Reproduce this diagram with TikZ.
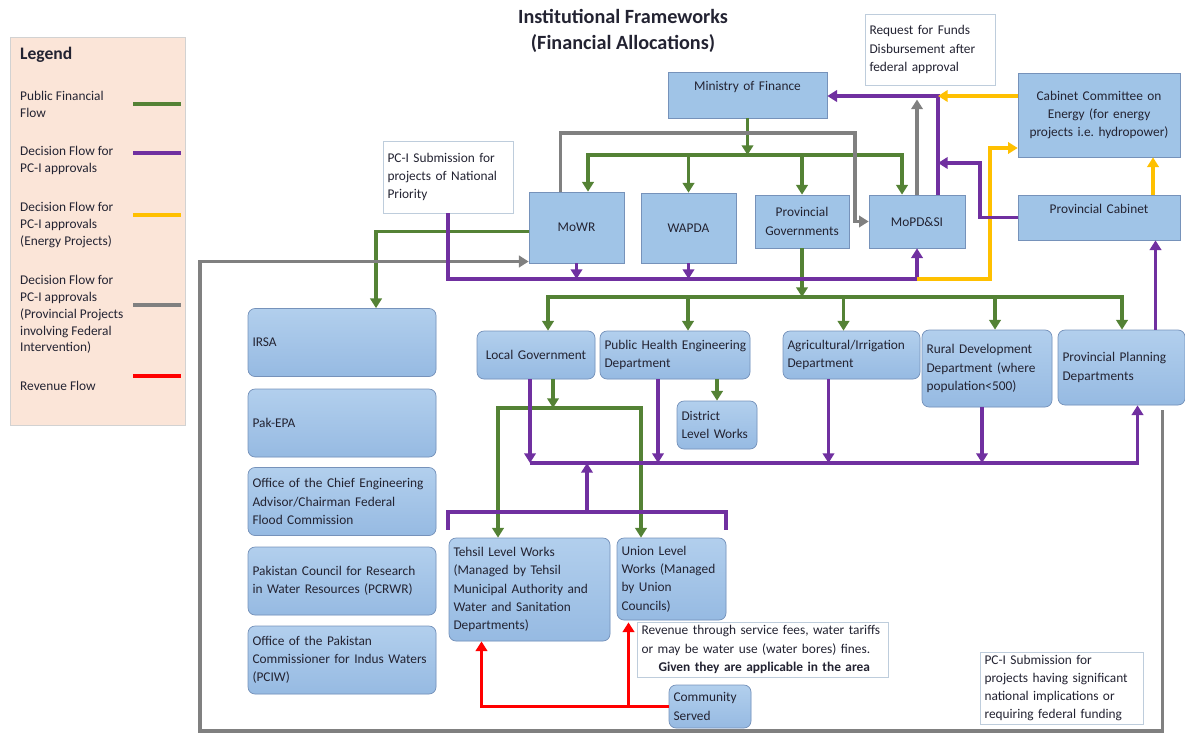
\documentclass[tikz,border=0pt]{standalone}
\usepackage{fontspec}
\setmainfont{Carlito}
\usetikzlibrary{arrows.meta,calc}
\definecolor{boxfill}{RGB}{160,196,231}
\definecolor{boxtop}{RGB}{178,207,237}
\definecolor{boxbot}{RGB}{150,186,226}
\definecolor{boxline}{RGB}{118,146,186}
\definecolor{notefill}{RGB}{255,255,255}
\definecolor{noteline}{RGB}{190,205,220}
\definecolor{legendfill}{RGB}{251,229,216}
\definecolor{finc}{RGB}{84,130,53}
\definecolor{decc}{RGB}{112,48,160}
\definecolor{enc}{RGB}{255,192,0}
\definecolor{provc}{RGB}{128,128,128}
\definecolor{revc}{RGB}{255,0,0}
\definecolor{txt}{RGB}{35,35,50}
\newcommand{\boxfont}{\fontsize{7.6}{10.4}\selectfont}
\tikzstyle{box}=[draw=boxline,fill=boxfill,text=txt,align=center,inner xsep=0.09cm,inner ysep=0pt,font=\boxfont]
\tikzstyle{rbox}=[box,rounded corners=4pt,top color=boxtop,bottom color=boxbot]
\tikzstyle{note}=[box,draw=noteline,fill=notefill]
\tikzstyle{lft}=[align=left]
\tikzstyle{legtext}=[anchor=west,align=left,text=txt,font=\fontsize{7.6}{9.6}\selectfont]
\tikzstyle{flow}=[line width=2.2pt]
\tikzstyle{fin}=[flow,draw=finc]
\tikzstyle{dec}=[flow,draw=decc]
\tikzstyle{ene}=[flow,draw=enc]
\tikzstyle{prov}=[flow,draw=provc]
\tikzstyle{rev}=[flow,draw=revc]
\tikzstyle{arr}=[-{Triangle[length=5.5pt,width=6.5pt]}]
\tikzstyle{arrs}=[{Triangle[length=5.5pt,width=6.5pt]}-{Triangle[length=5.5pt,width=6.5pt]}]
\tikzset{sz/.style 2 args={/utils/exec={\pgfmathsetlengthmacro\boxtw{(#1-9)*0.02cm}},
    text width/.expanded=\boxtw,minimum height={#2*0.02cm}}}

\begin{document}
\begin{tikzpicture}[x=0.02cm,y=-0.02cm]
    \useasboundingbox (0,0) rectangle (1185,733);
    % Legend
    \draw[fill=legendfill,draw=gray!35] (10,37) rectangle (185,425);
    \node[anchor=west,text=txt,font=\bfseries\fontsize{10}{12}\selectfont] (legend) at (14,55) {Legend};
    \foreach \name/\y/\ly/\sty/\txt in {lfin/104.5/104/fin/{Public Financial\\Flow},
        ldec/160.5/153/dec/{Decision Flow for\\PC-I approvals},
        lene/225/215/ene/{Decision Flow for\\PC-I approvals\\(Energy Projects)},
        lprov/314.5/305/prov/{Decision Flow for\\PC-I approvals\\(Provincial Projects\\involving Federal\\Intervention)},
        lrev/386/376/rev/{Revenue Flow}}{
        \node[legtext] (\name) at (14,\y) {\txt};
        \draw[\sty] (133,\ly) -- (181,\ly);
    }
    % Title
    \node[align=center,text=txt,font=\bfseries\fontsize{11.5}{14.7}\selectfont] (title) at (623,31)
        {Institutional Frameworks\\(Financial Allocations)};

    % Federal level
    \node[box,sz={159}{46},text depth=10pt] (mof) at (747.5,95) {Ministry of Finance};
    \node[note,lft,sz={130}{71}] (req) at (930,49.5) {Request for Funds\\Disbursement after\\federal approval};
    \node[box,sz={162}{84}] (cce) at (1099,115) {Cabinet Committee on\\Energy (for energy\\projects i.e.\ hydropower)};
    \node[box,sz={162}{45},text depth=10pt] (pcab) at (1099,217.5) {Provincial Cabinet};
    \node[box,sz={96}{53}] (mopd) at (917,221.5) {MoPD\&SI};
    \node[box,sz={94}{53}] (provgov) at (802,221.5) {Provincial\\Governments};
    \node[box,sz={95}{70}] (wapda) at (688.5,228) {WAPDA};
    \node[box,sz={95}{71}] (mowr) at (576.5,227.5) {MoWR};
    \node[note,lft,sz={130}{72}] (pcs) at (448,177) {PC-I Submission for\\projects of National\\Priority};

    % Federal agencies
    \foreach \name/\y/\txt in {irsa/342.5/IRSA, pakepa/423/Pak-EPA,
        cea/501.5/{Office of the Chief Engineering\\Advisor/Chairman Federal\\Flood Commission},
        pcrwr/581/{Pakistan Council for Research\\in Water Resources (PCRWR)},
        pciw/660/{Office of the Pakistan\\Commissioner for Indus Waters\\(PCIW)}}
        \node[rbox,lft,sz={188}{68}] (\name) at (342,\y) {\txt};

    % Provincial departments
    \node[rbox,sz={118}{48}] (lg) at (536,355) {Local Government};
    \node[rbox,lft,sz={150}{48}] (phed) at (675,355) {\mbox{Public Health Engineering}\\Department};
    \node[rbox,lft,sz={137}{48}] (agri) at (851.5,355) {Agricultural/Irrigation\\Department};
    \node[rbox,lft,sz={130}{77}] (rural) at (987,368.5) {Rural Development\\Department (where\\population<500)};
    \node[rbox,lft,sz={127}{75}] (ppd) at (1121.5,367.5) {Provincial Planning\\Departments};
    \node[rbox,lft,sz={80}{48}] (dlw) at (717,425) {District\\Level Works};

    % Local works
    \node[rbox,lft,sz={161}{103}] (tehsil) at (529.5,589.5) {Tehsil Level Works\\(Managed by Tehsil\\Municipal Authority and\\Water and Sanitation\\Departments)};
    \node[rbox,lft,sz={109}{82}] (union) at (671.5,579) {Union Level\\Works (Managed\\by Union\\Councils)};
    \node[note,lft,sz={251}{55}] (rev) at (762.5,649.5) {Revenue through service fees, water tariffs\\or may be water use (water bores) fines.\\\hspace*{0.34cm}\textbf{Given they are applicable in the area}};
    \node[rbox,lft,sz={82}{43}] (comm) at (710,706.5) {Community\\Served};
    \node[note,lft,sz={163}{72}] (pcs2) at (1061.5,688) {PC-I Submission for\\projects having significant\\national implications or\\requiring federal funding};

    % Public financial flow
    \coordinate (gsplit) at (747,155);
    \coordinate (gb1L) at (588,155);
    \coordinate (gb1R) at (902,155);
    \draw[fin,arr] (mof.south) -- (mof.south |- gsplit);
    \draw[fin,arrs] (gb1L |- mowr.north) -- (gb1L) -- (gb1R) -- (gb1R |- mopd.north);
    \foreach \n in {wapda,provgov}
        \draw[fin,arr] (\n.north |- gsplit) -- (\n.north);
    \draw[fin,arr] ($(mowr.west)+(0,4)$) -| ($(irsa.north)+(34,0)$);
    \coordinate (gb2L) at (548,297);
    \coordinate (gb2R) at (1122,297);
    \draw[fin,arr] (provgov.south) -- (provgov.south |- gb2L);
    \draw[fin,arrs] (gb2L |- lg.north) -- (gb2L) -- (gb2R) -- (gb2R |- ppd.north);
    \foreach \n/\dx in {phed/13,agri/-8,rural/8}
        \draw[fin,arr] ($(\n.north |- gb2L)+(\dx,0)$) -- ($(\n.north)+(\dx,0)$);
    \draw[fin,arr] (dlw.north |- phed.south) -- (dlw.north);
    \coordinate (gb3L) at (498,408);
    \coordinate (gb3R) at (641,408);
    \draw[fin,arr] ($(lg.south)+(17,0)$) -- ($(lg.south |- gb3L)+(17,0)$);
    \draw[fin,arrs] (gb3L |- tehsil.north) -- (gb3L) -- (gb3R) -- (gb3R |- union.north);

    % Provincial projects with federal intervention
    \coordinate (gytop) at (855,133);
    \coordinate (gyleft) at (200,731);
    \draw[prov,arr] ($(mowr.north)+(-16,0)$) |- (gytop) |- (mopd.west);
    \draw[prov,arr] ($(ppd.south)+(41,5)$) |- (gyleft) |- ($(mowr.west)+(0,34)$);

    % Decision flow for PC-I approvals
    \coordinate (pjoin) at (938,96);
    \coordinate (pbend) at (980,163);
    \coordinate (pbot) at (917,279);
    \coordinate (ybend) at (990,148);
    \draw[prov,arr,shorten >=2pt] (mopd.north) -- (mopd.north |- pjoin);
    \draw[dec,arr] (pcs.south) |- (pbot) -- (mopd.south);
    \foreach \n in {mowr,wapda}
        \draw[dec,arr] (\n.south) -- (\n.south |- pbot);
    \draw[ene,arr] (pbot) -| (ybend) -- (cce.west |- ybend);
    \draw[dec,arr] (pjoin |- mopd.north) -- (pjoin) -- (pjoin -| mof.east);
    \draw[dec,arr] (pcab.west) -| (pbend) -- (pbend -| pjoin);
    \draw[ene,arr] (cce.west |- pjoin) -- (pjoin);
    \draw[ene,arr] ($(pcab.north)+(54,0)$) -- ($(cce.south)+(54,0)$);

    \coordinate (pbus) at (530,463);
    \coordinate (pbr) at (587,512);
    \draw[dec,arr] (pbus) -| ($(ppd.south)+(16,0)$);
    \foreach \n/\dx in {lg/-6,phed/-17,agri/-23,rural/-5}
        \draw[dec,arr] ($(\n.south)+(\dx,0)$) -- ($(\n.south |- pbus)+(\dx,0)$);
    \draw[dec] ($(tehsil.north west)+(-1,-8)$) |- (pbr) -| ($(union.north east)+(0,-8)$);
    \draw[dec,arr] (pbr) -- (pbr |- pbus);
    \draw[dec,arr] ($(ppd.north)+(34,0)$) -- ($(ppd.north |- pcab.south)+(34,0)$);

    % Revenue flow
    \draw[rev,arr] (comm.west) -| ($(tehsil.south)+(-48,0)$);
    \draw[rev,arr] ($(union.south |- comm.west)+(-43,0)$) -- ($(union.south)+(-43,2)$);
\end{tikzpicture}
\end{document}
